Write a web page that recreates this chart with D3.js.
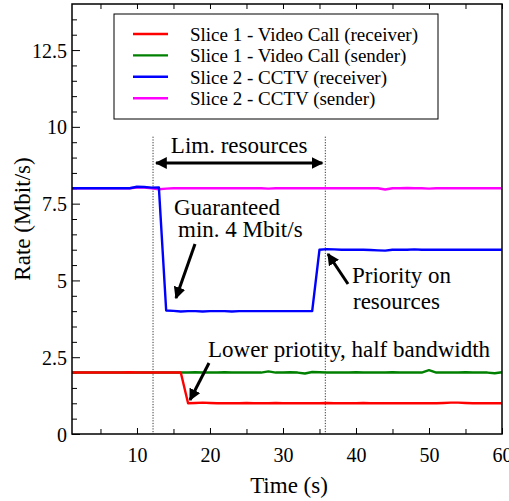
<!DOCTYPE html>
<html>
<head>
<meta charset="utf-8">
<script src="https://cdn.jsdelivr.net/npm/d3@7"></script>
<style>
  body { margin: 0; background: #fff; }
</style>
</head>
<body>
<svg id="chart" width="509" height="501"></svg>
<script>
// time stamps (s)
const time = [1, 2, 3, 4, 5, 6, 7, 8, 9, 10,
  11, 12, 13, 14, 15, 16, 17, 18, 19, 20,
  21, 22, 23, 24, 25, 26, 27, 28, 29, 30,
  31, 32, 33, 34, 35, 36, 37, 38, 39, 40,
  41, 42, 43, 44, 45, 46, 47, 48, 49, 50,
  51, 52, 53, 54, 55, 56, 57, 58, 59, 60];

// rates in Mbit/s
const videoReceiver = [2.0, 2.0, 2.0, 2.0, 2.0, 2.0, 2.0, 2.0, 2.01, 2.0,
  2.0, 2.0, 2.0, 2.0, 2.0, 2.0, 1.0, 1.01, 1.02, 1.01,
  1.0, 1.0, 1.0, 1.0, 1.01, 1.0, 1.0, 1.0, 1.01, 1.0,
  1.0, 1.0, 1.0, 1.0, 1.0, 1.01, 1.0, 1.0, 1.0, 1.0,
  1.01, 1.0, 1.0, 1.0, 1.0, 1.0, 1.0, 1.0, 1.0, 1.0,
  1.0, 1.01, 1.02, 1.02, 1.01, 1.0, 1.0, 1.0, 1.0, 1.0];

const videoSender = [2.0, 2.0, 2.0, 2.0, 2.0, 2.0, 2.0, 2.0, 2.0, 2.0,
  2.0, 2.0, 2.0, 2.0, 2.0, 2.0, 2.0, 2.01, 2.0, 2.0,
  2.0, 2.01, 2.0, 2.0, 2.0, 2.0, 2.0, 2.04, 2.0, 2.0,
  2.01, 2.0, 1.97, 2.02, 2.01, 2.0, 2.0, 2.0, 2.0, 2.01,
  2.0, 2.0, 2.0, 2.0, 2.01, 2.0, 2.0, 2.0, 2.0, 2.08,
  2.0, 2.0, 2.0, 2.0, 2.01, 2.0, 2.0, 2.0, 1.98, 2.01];

const cctvReceiver = [8.0, 8.0, 8.0, 8.0, 8.0, 8.0, 8.0, 8.0, 8.0, 8.05,
  8.04, 8.02, 8.03, 4.02, 4.01, 3.99, 4.0, 4.0, 3.99, 4.0,
  4.0, 4.0, 3.99, 4.0, 4.0, 4.0, 4.0, 4.0, 4.0, 4.0,
  4.0, 4.0, 4.0, 4.0, 6.0, 6.02, 6.01, 6.0, 6.0, 6.0,
  6.0, 5.99, 5.98, 5.97, 6.0, 6.0, 6.0, 6.01, 6.0, 6.0,
  6.0, 6.0, 6.0, 6.0, 6.0, 6.0, 6.0, 6.0, 6.0, 6.0];

const cctvSender = [8.0, 8.0, 8.0, 8.0, 8.0, 8.0, 8.0, 8.0, 8.0, 8.02,
  8.02, 8.0, 7.97, 7.99, 8.0, 8.0, 8.0, 8.0, 8.0, 8.0,
  8.0, 8.0, 8.0, 8.0, 8.0, 8.0, 8.0, 7.99, 8.0, 8.0,
  8.0, 8.0, 8.0, 8.0, 8.0, 8.0, 8.0, 8.0, 8.0, 8.0,
  8.0, 8.0, 8.0, 7.96, 8.0, 8.0, 8.01, 8.0, 8.0, 7.99,
  8.0, 8.0, 8.0, 8.0, 8.0, 8.0, 8.0, 8.0, 8.0, 8.0];

const seriesNames = ["Slice 1 - Video Call (receiver)", "Slice 1 - Video Call (sender)",
  "Slice 2 - CCTV (receiver)", "Slice 2 - CCTV (sender)"];
const seriesColors = ["#ff0000", "#008000", "#0000ff", "#ff00ff"];
const seriesValues = [videoReceiver, videoSender, cctvReceiver, cctvSender];

const xTickLabels = [10, 20, 30, 40, 50, 60];
const xMinorTicks = [5, 15, 25, 35, 45, 55];
const yTickLabels = [0, 2.5, 5, 7.5, 10, 12.5];
const yMinorTicks = [0.5, 1, 1.5, 2, 3, 3.5, 4, 4.5, 5.5, 6, 6.5, 7, 8, 8.5, 9, 9.5,
  10.5, 11, 11.5, 12, 13, 13.5];

// limited-resources window (s)
const limStart = 12.2, limEnd = 35.8;

const FONT = "Liberation Serif";

const margin = {top: 4, right: 7, bottom: 67, left: 72};
const W = 509, H = 501;
const width = W - margin.left - margin.right;
const height = H - margin.top - margin.bottom;

const svg = d3.select("#chart");

svg.append("defs").append("clipPath").attr("id", "clip")
  .append("rect").attr("width", width).attr("height", height);

const marker = svg.select("defs").append("marker")
  .attr("id", "arrow")
  .attr("viewBox", "0 0 10 10")
  .attr("refX", 9).attr("refY", 5)
  .attr("markerWidth", 4).attr("markerHeight", 4)
  .attr("markerUnits", "strokeWidth")
  .attr("orient", "auto-start-reverse");
marker.append("path").attr("d", "M0,0 L10,5 L0,10 Z").attr("fill", "#000");

const chart = svg.append("g")
  .attr("transform", `translate(${margin.left},${margin.top})`);

const x = d3.scaleLinear().domain([1.1, 60]).range([0, width]);
const y = d3.scaleLinear().domain([0, 14]).range([height, 0]);

// axes (ticks inward)
const xAxisG = chart.append("g").attr("transform", `translate(0,${height})`)
  .call(d3.axisBottom(x).tickValues(xTickLabels).tickSize(-6).tickPadding(14).tickFormat(d => d));
const xMinorG = chart.append("g").attr("transform", `translate(0,${height})`)
  .call(d3.axisBottom(x).tickValues(xMinorTicks).tickSize(-5).tickFormat(""));
const xTopG = chart.append("g")
  .call(d3.axisTop(x).tickValues(xTickLabels.concat(xMinorTicks)).tickSize(-5).tickFormat(""));
const yAxisG = chart.append("g")
  .call(d3.axisLeft(y).tickValues(yTickLabels).tickSize(-8).tickPadding(5).tickFormat(d => d));
const yMinorG = chart.append("g")
  .call(d3.axisLeft(y).tickValues(yMinorTicks).tickSize(-5).tickFormat(""));

[xAxisG, xMinorG, xTopG, yAxisG, yMinorG].forEach(g => {
  g.attr("font-family", FONT).attr("font-size", 20);
  g.select(".domain").remove();
  g.selectAll(".tick line").attr("stroke", "#000").attr("stroke-width", 1);
  g.selectAll("text").attr("fill", "#000");
});
yAxisG.selectAll("text").attr("dy", "0.35em");

// dotted window markers
chart.selectAll(".lim-line")
  .data([limStart, limEnd])
  .join("line")
  .attr("class", "lim-line")
  .attr("x1", d => x(d)).attr("x2", d => x(d))
  .attr("y1", y(9.68)).attr("y2", height)
  .attr("stroke", "#333").attr("stroke-width", 1)
  .attr("stroke-dasharray", "1.2,1.5");

// series lines (drawn in reverse so receivers sit on top)
const line = d3.line().x((d, i) => x(time[i])).y(d => y(d));
const order = [3, 2, 1, 0];
chart.append("g").attr("clip-path", "url(#clip)")
  .selectAll("path")
  .data(order)
  .join("path")
  .attr("d", k => line(seriesValues[k]))
  .attr("fill", "none")
  .attr("stroke", k => seriesColors[k])
  .attr("stroke-width", 2.4)
  .attr("stroke-linejoin", "round");

// frame
chart.append("rect")
  .attr("width", width).attr("height", height)
  .attr("fill", "none").attr("stroke", "#000").attr("stroke-width", 1.5);

// legend
const legend = chart.append("g").attr("transform", "translate(42,10)");
legend.append("rect")
  .attr("width", 324).attr("height", 105)
  .attr("fill", "#fff").attr("stroke", "#000").attr("stroke-width", 1);
const rows = legend.selectAll(".row")
  .data(seriesNames)
  .join("g")
  .attr("class", "row")
  .attr("transform", (d, i) => `translate(0,${20 + i * 21.4})`);
rows.append("line")
  .attr("x1", 19).attr("x2", 54)
  .attr("stroke", (d, i) => seriesColors[i]).attr("stroke-width", 2.4);
rows.append("text")
  .attr("x", 76).attr("y", 7)
  .attr("font-family", FONT).attr("font-size", 19)
  .text(d => d);

// annotations
const ann = chart.append("g").attr("font-family", FONT).attr("font-size", 23);
function addText(tx, ty, str) {
  ann.append("text").attr("x", tx).attr("y", ty).text(str);
}
function addArrow(x1, y1, x2, y2, both) {
  ann.append("line")
    .attr("x1", x1).attr("y1", y1).attr("x2", x2).attr("y2", y2)
    .attr("stroke", "#000").attr("stroke-width", 3)
    .attr("marker-end", "url(#arrow)")
    .attr("marker-start", both ? "url(#arrow)" : null);
}

ann.append("text").attr("x", (x(limStart) + x(limEnd)) / 2).attr("y", 149)
  .attr("text-anchor", "middle").text("Lim. resources");
addArrow(x(limStart) + 3, 159, x(limEnd) - 3, 159, true);

addText(102, 211, "Guaranteed");
addText(106, 233, "min. 4 Mbit/s");
addArrow(123, 240, 104, 294, false);

addText(280, 279, "Priority on");
addText(281, 305, "resources");
addArrow(276, 280, 256, 250, false);

addText(136, 353, "Lower priotity, half bandwidth");
addArrow(137, 359, 118, 396, false);

// axis titles
svg.append("text")
  .attr("x", margin.left + width / 2 + 2).attr("y", 493)
  .attr("text-anchor", "middle")
  .attr("font-family", FONT).attr("font-size", 23)
  .text("Time (s)");
svg.append("text")
  .attr("transform", `translate(30,${margin.top + height / 2}) rotate(-90)`)
  .attr("text-anchor", "middle")
  .attr("font-family", FONT).attr("font-size", 23)
  .text("Rate (Mbit/s)");
</script>
</body>
</html>
